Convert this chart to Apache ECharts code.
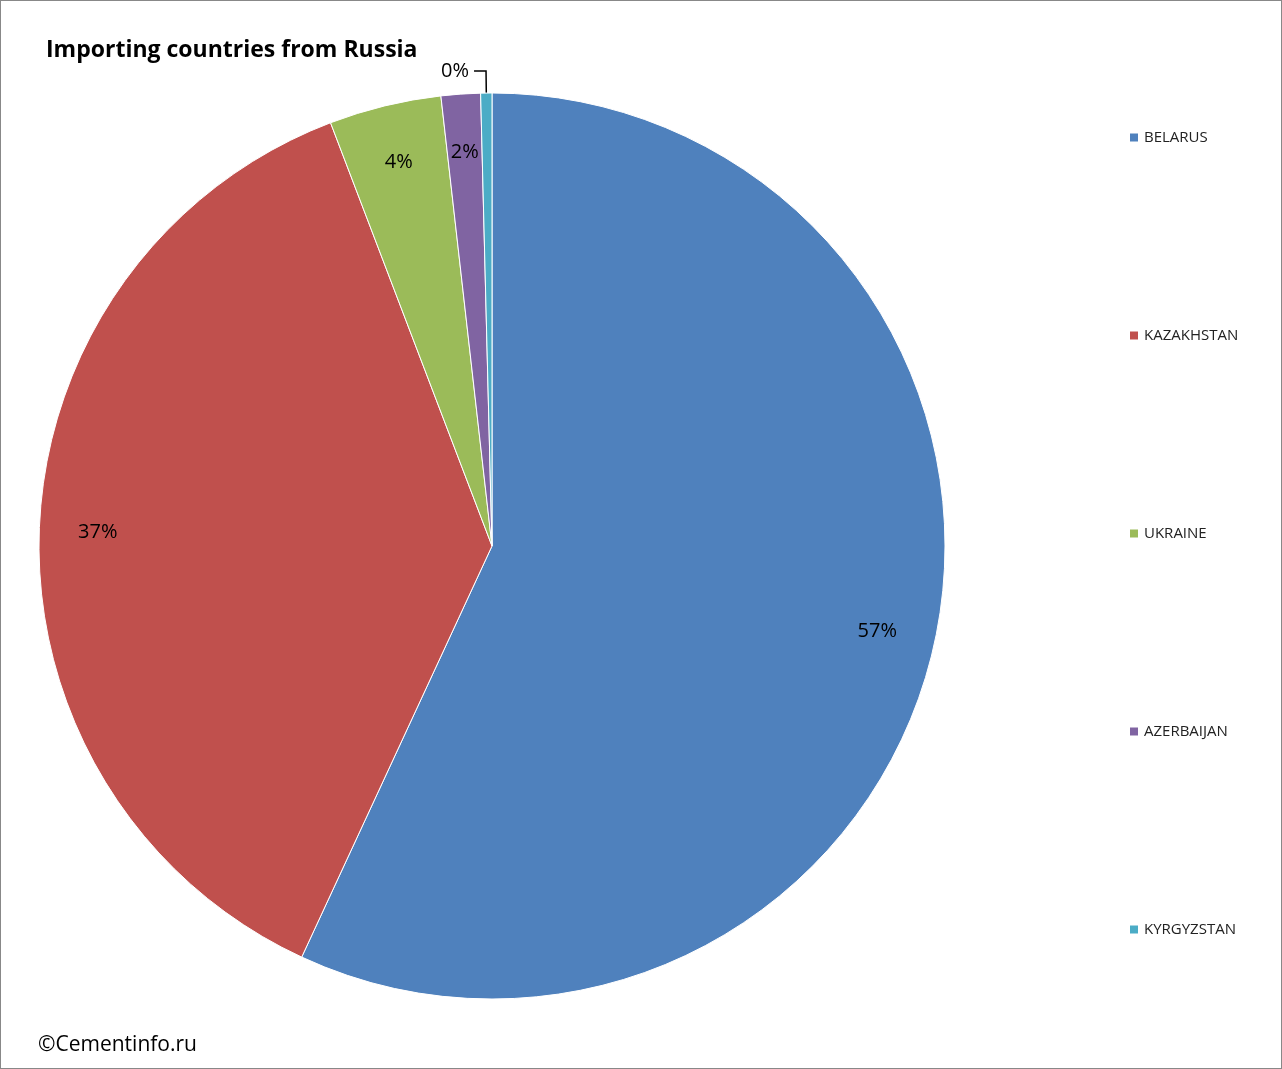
<!DOCTYPE html>
<html><head><meta charset="utf-8">
<script src="https://cdn.jsdelivr.net/npm/echarts@6/dist/echarts.min.js"></script>
<style>html,body{margin:0;padding:0;background:#fff}#c{width:1282px;height:1069px;box-sizing:border-box;border:1px solid #888}</style>
</head><body><div id="c"></div>
<script>
const categories = ['BELARUS','KAZAKHSTAN','UKRAINE','AZERBAIJAN','KYRGYZSTAN'];
const values = [56.9, 37.3, 4.0, 1.4, 0.4];
const labels = ['57%','37%','4%','2%','0%'];
const colors = ['#4F81BD','#C0504D','#9BBB59','#8064A2','#4BACC6'];
const font = 'Open Sans, Liberation Sans, sans-serif';
const chart = echarts.init(document.getElementById('c'));
const data = categories.map((n,i)=>({name:n,value:values[i],itemStyle:{color:colors[i]}}));
chart.setOption({
  animation:false,
  title:[{text:'Importing countries from Russia',left:40,top:33,textStyle:{fontFamily:font,fontSize:23,fontWeight:'bold',color:'#000'}},
         {text:'©Cementinfo.ru',left:32,top:1029,textStyle:{fontFamily:font,fontSize:21,fontWeight:'normal',color:'#000'}}],
  legend:{orient:'vertical',left:1122,top:124,itemGap:183,itemWidth:10,itemHeight:10,icon:'rect',
    textStyle:{fontFamily:font,fontSize:15,color:'#222'},data:categories},
  series:[
    {type:'pie',center:[491,545],radius:[0,453],startAngle:90,clockwise:true,label:{show:false},labelLine:{show:false},
     itemStyle:{borderColor:'#fff',borderWidth:1},data:data,silent:true},
    {type:'pie',center:[491,545],radius:[330,453],startAngle:90,clockwise:true,silent:true,legendHoverLink:false,
     itemStyle:{color:'rgba(0,0,0,0)'},
     label:{show:true,position:'inside',fontFamily:font,fontSize:20,color:'#000',formatter:p=>labels[p.dataIndex]},
     labelLine:{show:false},
     data:categories.map((n,i)=>{
       const d={name:n+'_l',value:values[i]};
       if(i===4){d.label={position:'outside',distance:5,fontSize:20};d.labelLine={show:true,length:22,length2:12,lineStyle:{color:'#000',width:1.5}};}
       return d;})}
  ]
});
</script></body></html>
